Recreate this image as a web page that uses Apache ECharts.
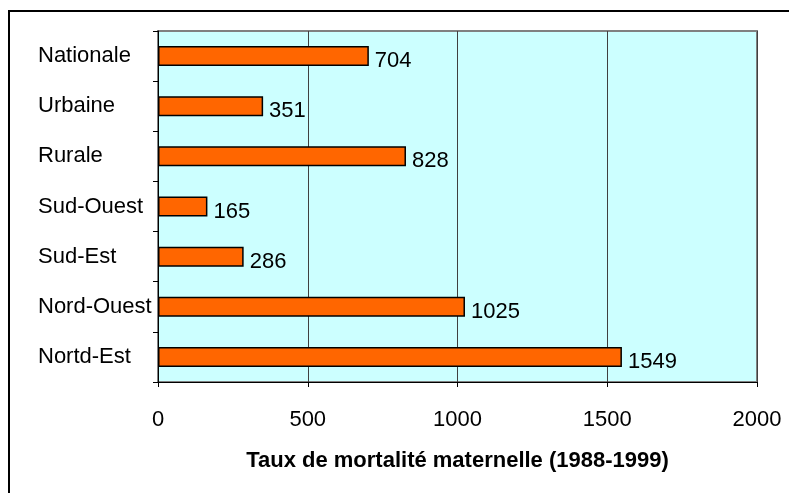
<!DOCTYPE html>
<html>
<head>
<meta charset="utf-8">
<script src="https://cdn.jsdelivr.net/npm/echarts@6/dist/echarts.min.js"></script>
<style>
  html, body { margin: 0; padding: 0; background: #fff; }
  #chart { width: 789px; height: 493px; }
</style>
</head>
<body>
<div id="chart"></div>
<script>
var regions = ['Nationale', 'Urbaine', 'Rurale', 'Sud-Ouest', 'Sud-Est', 'Nord-Ouest', 'Nortd-Est'];
var taux = [704, 351, 828, 165, 286, 1025, 1549];
var xTicks = [0, 500, 1000, 1500, 2000];

var myChart = echarts.init(document.getElementById('chart'));
var option = {
	backgroundColor: '#ffffff',
	animation: false,
	textStyle: { fontFamily: 'Liberation Sans, Arial, sans-serif' },
	graphic: [{
		type: 'rect',
		shape: { x: 9, y: 11, width: 800, height: 500 },
		style: { fill: null, stroke: '#000', lineWidth: 2 }
	}],
	grid: {
		left: 158, right: 32, top: 31, bottom: 111,
		show: true,
		backgroundColor: '#ccffff',
		borderColor: '#808080',
		borderWidth: 2
	},
	xAxis: {
		type: 'value',
		min: xTicks[0],
		max: xTicks[xTicks.length - 1],
		interval: 500,
		name: 'Taux de mortalité maternelle (1988-1999)',
		nameLocation: 'middle',
		nameGap: 68,
		nameTextStyle: { fontSize: 22, fontWeight: 'bold', color: '#000' },
		axisLine: { show: true, lineStyle: { color: '#000', width: 1 } },
		axisTick: { show: true, length: 5, lineStyle: { color: '#000' } },
		axisLabel: {
			fontSize: 22, color: '#000', margin: 27,
			formatter: function (v) { return String(v); }
		},
		splitLine: { show: true, lineStyle: { color: '#404040', width: 1 } }
	},
	yAxis: {
		type: 'category',
		inverse: true,
		data: regions,
		axisLine: { show: true, lineStyle: { color: '#000', width: 1 } },
		axisTick: { show: true, length: 5, lineStyle: { color: '#000' } },
		axisLabel: { fontSize: 22, color: '#000', margin: 120, align: 'left', padding: [7, 0, 0, 0] }
	},
	series: [{
		type: 'bar',
		data: taux,
		barWidth: 20,
		itemStyle: { color: '#ff6600', borderColor: '#000', borderWidth: 1.5 },
		label: {
			show: true,
			position: 'right',
			distance: 6,
			offset: [0, 5],
			fontSize: 22,
			color: '#000'
		}
	}]
};
myChart.setOption(option);
</script>
</body>
</html>
